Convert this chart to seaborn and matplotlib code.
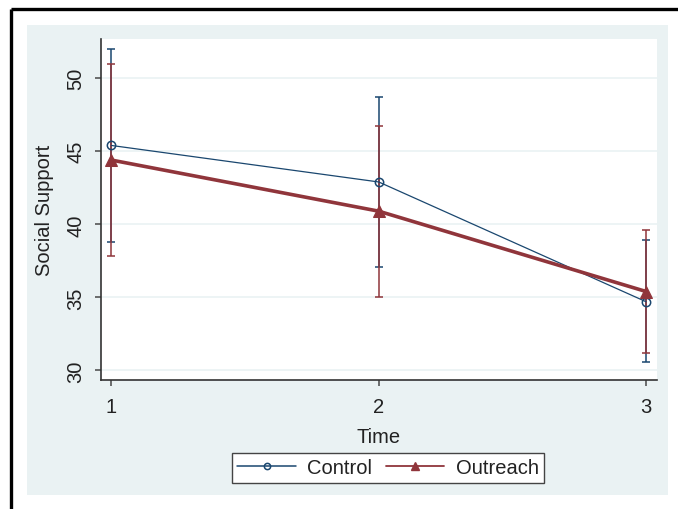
import matplotlib
matplotlib.use("Agg")
import matplotlib.pyplot as plt
import seaborn as sns
import pandas as pd
import numpy as np
from matplotlib.patches import Rectangle
from matplotlib.lines import Line2D

# ---- data ----
times = [1, 2, 3]
control_mean = [45.4, 42.9, 34.7]
control_lo = [38.8, 37.1, 30.6]
control_hi = [52.0, 48.7, 38.9]
outreach_mean = [44.4, 40.9, 35.4]
outreach_lo = [37.8, 35.0, 31.2]
outreach_hi = [51.0, 46.7, 39.6]
groups = ["Control", "Outreach"]
y_ticks = [30, 35, 40, 45, 50]

df = pd.DataFrame({
    "Time": times * 2,
    "Group": [groups[0]] * 3 + [groups[1]] * 3,
    "mean": control_mean + outreach_mean,
    "lo": control_lo + outreach_lo,
    "hi": control_hi + outreach_hi,
})

NAVY = "#1a476f"
MAROON = "#90353b"
BG = "#eaf2f3"

sns.set_theme(style="white")
plt.rcParams["font.family"] = ["Liberation Sans", "DejaVu Sans"]

W, H = 678, 510
fig = plt.figure(figsize=(W / 100, H / 100), dpi=100)
fig.patch.set_facecolor("white")

# light blue outer region
fig.add_artist(Rectangle((27 / W, 1 - 496 / H), (668 - 27) / W, (496 - 26) / H,
                         transform=fig.transFigure, facecolor=BG, edgecolor="none", zorder=-5))
# black frame lines (top and left)
fig.add_artist(Line2D([11 / W, 1.0], [1 - 9.5 / H, 1 - 9.5 / H], transform=fig.transFigure,
                      color="black", lw=2.4, solid_capstyle="butt"))
fig.add_artist(Line2D([11 / W, 11 / W], [0, 1 - 9.5 / H], transform=fig.transFigure,
                      color="black", lw=2.4, solid_capstyle="butt"))

ax_l, ax_r, ax_t, ax_b = 101, 657, 40, 381
ax = fig.add_axes([ax_l / W, 1 - ax_b / H, (ax_r - ax_l) / W, (ax_b - ax_t) / H])
ax.set_facecolor("white")

# gridlines
for yt in y_ticks:
    ax.axhline(yt, color=BG, lw=1.2, zorder=0)

colors = {"Control": NAVY, "Outreach": MAROON}
for g in groups:
    sub = df[df["Group"] == g]
    ax.errorbar(sub["Time"], sub["mean"],
                yerr=[sub["mean"] - sub["lo"], sub["hi"] - sub["mean"]],
                fmt="none", ecolor=colors[g], elinewidth=1.1, capsize=3, capthick=1.1, zorder=2)

sub = df[df["Group"] == "Control"]
sns.lineplot(data=sub, x="Time", y="mean", color=NAVY, lw=0.9, marker="o",
             markersize=6, markerfacecolor="none", markeredgecolor=NAVY, markeredgewidth=1.1,
             ax=ax, label="Control", zorder=3)
sub = df[df["Group"] == "Outreach"]
sns.lineplot(data=sub, x="Time", y="mean", color=MAROON, lw=2.6, marker="^",
             markersize=9, markeredgecolor=MAROON, markerfacecolor=MAROON,
             ax=ax, label="Outreach", zorder=4)

ax.set_xlim(0.961, 3.041)
ax.set_ylim(29.34, 52.69)
ax.set_xticks(times)
ax.set_xticklabels([str(t) for t in times])
ax.set_yticks(y_ticks)
ax.set_yticklabels([str(t) for t in y_ticks], rotation=90, va="center")

for s in ["top", "right"]:
    ax.spines[s].set_visible(False)
for s in ["left", "bottom"]:
    ax.spines[s].set_color("#333333")
    ax.spines[s].set_linewidth(1.2)

ax.tick_params(axis="both", which="major", length=4.5, width=1.2, color="#555555",
               labelsize=14.5, labelcolor="#222222", left=True, bottom=True)
ax.tick_params(axis="y", pad=7)
ax.tick_params(axis="x", pad=8)

ax.set_xlabel("Time", fontsize=14.5, color="#222222", labelpad=7.5)
ax.set_ylabel("Social Support", fontsize=14.5, color="#222222", labelpad=9)

# legend
handles = [
    Line2D([], [], color=NAVY, lw=1.1, marker="o", markersize=4.5, markerfacecolor="none",
           markeredgecolor=NAVY, markeredgewidth=1.1),
    Line2D([], [], color=MAROON, lw=1.3, marker="^", markersize=6, markerfacecolor=MAROON,
           markeredgecolor=MAROON),
]
if ax.get_legend():
    ax.get_legend().remove()
leg = fig.legend(handles, groups, loc="center", bbox_to_anchor=(388 / W, 1 - 469 / H),
                 bbox_transform=fig.transFigure, ncol=2, fontsize=14.5, frameon=True,
                 fancybox=False, edgecolor="#444444", framealpha=1, handlelength=2.9,
                 handletextpad=0.55, columnspacing=0.7, borderpad=0.25, borderaxespad=0)
leg.get_frame().set_linewidth(1.0)
for t in leg.get_texts():
    t.set_color("#222222")

fig.savefig("out.png", dpi=100, facecolor="white")
